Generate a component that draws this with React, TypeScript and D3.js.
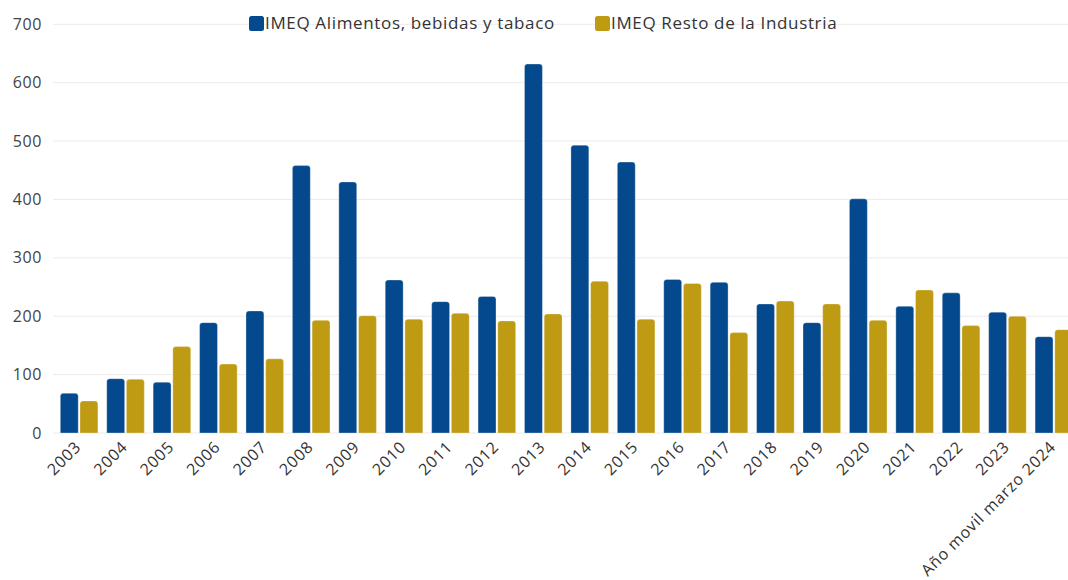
import React from "react";
import * as d3 from "d3";

const categories = ["2003","2004","2005","2006","2007","2008","2009","2010","2011","2012","2013","2014","2015","2016","2017","2018","2019","2020","2021","2022","2023","Año movil marzo 2024"];
const alimentos = [68,93,87,189,209,458,430,262,225,234,632,493,464,263,258,221,189,401,217,240,207,165];
const resto = [55,92,148,118,127,193,201,195,205,192,204,260,195,256,172,226,221,193,245,184,200,177];
const seriesNames = ["IMEQ Alimentos, bebidas y tabaco", "IMEQ Resto de la Industria"];
const seriesColors = ["#04498d", "#bf9b14"];
const yTicks = [0,100,200,300,400,500,600,700];

const W = 1068, H = 580;
const FONT = "'Open Sans', 'Noto Sans', sans-serif";

function topRounded(x: number, y: number, w: number, h: number, r: number) {
  const rr = Math.min(r, h / 2, w / 2);
  const p = d3.path();
  p.moveTo(x, y + h);
  p.lineTo(x, y + rr);
  p.quadraticCurveTo(x, y, x + rr, y);
  p.lineTo(x + w - rr, y);
  p.quadraticCurveTo(x + w, y, x + w, y + rr);
  p.lineTo(x + w, y + h);
  p.closePath();
  return p.toString();
}

export default function App() {
  const x0 = d3.scaleBand<string>().domain(categories).range([55.9, 1077.1]).paddingInner(0.19).paddingOuter(0.095);
  const x1 = d3.scaleBand<string>().domain(["a", "b"]).range([0, x0.bandwidth()]).paddingInner(0.09);
  const y = d3.scaleLinear().domain([0, 700]).range([433, 24.3]);
  const series = [alimentos, resto];
  const keys = ["a", "b"];

  return (
    <svg width={W} height={H} style={{ position: "absolute", left: 0, top: 0, background: "#fff" }} fontFamily={FONT}>
      {yTicks.map((t) => (
        <g key={t}>
          <line x1={53} x2={W} y1={y(t)} y2={y(t)} stroke="#ebebeb" strokeWidth={1} />
          <text x={42} y={y(t)} dy="0.35em" textAnchor="end" fontSize={16} letterSpacing={0.6} fill="#444">{t}</text>
        </g>
      ))}
      {series.map((vals, si) =>
        vals.map((v, i) => {
          const bx = (x0(categories[i]) as number) + (x1(keys[si]) as number);
          const by = y(v);
          return (
            <path key={si + "-" + i} d={topRounded(bx, by, x1.bandwidth(), y(0) - by, 3)}
              fill={seriesColors[si]} stroke="#ffffff" strokeOpacity={0.5} strokeWidth={0.6} />
          );
        })
      )}
      {categories.map((c) => {
        const cx = (x0(c) as number) + x0.bandwidth() / 2 + 3;
        return (
          <text key={c} transform={`translate(${cx},${448}) rotate(-45)`} textAnchor="end" fontSize={16} letterSpacing={0.8} fill="#333">{c}</text>
        );
      })}
      {/* legend */}
      {seriesNames.map((n, i) => {
        const lx = i === 0 ? 249 : 595;
        return (
          <g key={n}>
            <rect x={lx} y={16} width={15} height={15} rx={2.5} fill={seriesColors[i]} />
            <text x={lx + 16} y={29} fontSize={17} letterSpacing={0.65} fill="#333">{n}</text>
          </g>
        );
      })}
    </svg>
  );
}
